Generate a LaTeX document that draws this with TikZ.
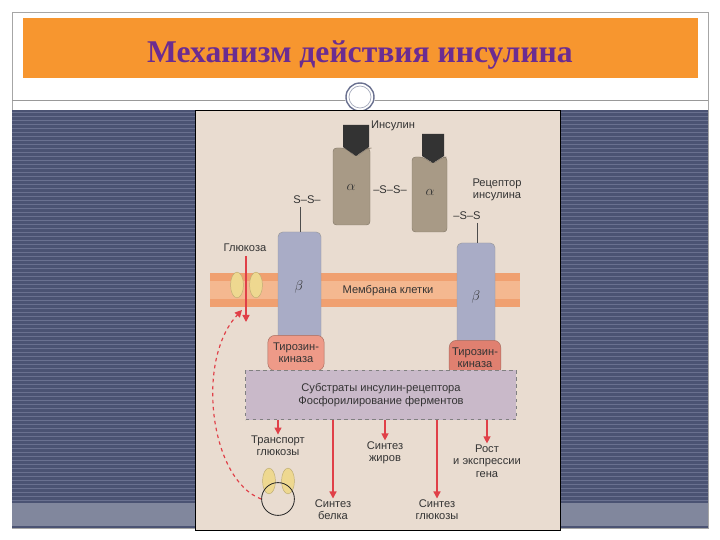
\documentclass[tikz,border=0pt]{standalone}
\usepackage{fontspec}
\setmainfont{Liberation Serif}
\newfontfamily\lab{Liberation Sans}
\usetikzlibrary{arrows.meta,shapes.geometric}
\definecolor{orangebar}{HTML}{F7962F}
\definecolor{titlec}{HTML}{6B2C91}
\definecolor{slate}{HTML}{4B5373}
\definecolor{slateline}{HTML}{6A7190}
\definecolor{beige}{HTML}{E9DCD0}
\definecolor{alphac}{HTML}{A89A86}
\definecolor{betac}{HTML}{A9ACC6}
\definecolor{memb}{HTML}{F0A070}
\definecolor{membin}{HTML}{F4B890}
\definecolor{kinase}{HTML}{EE9A88}
\definecolor{kinase2}{HTML}{E08070}
\definecolor{subst}{HTML}{C9B9C9}
\definecolor{redarr}{HTML}{E04048}
\definecolor{yel}{HTML}{EED890}
\tikzset{
 lbl/.style={font=\lab\fontsize{9.5}{10.5}\selectfont, align=center, text=black!80, inner sep=1pt},
 greek/.style={font=\fontsize{13}{13}\selectfont, text=black!80},
 kinbox/.style={fill=kinase, draw=kinase!70!black, rounded corners=6pt, lbl, minimum height=30pt, text width=46pt},
 rarr/.style={draw=redarr, line width=1.1pt, -{Triangle[length=6pt,width=6pt]}},
 yell/.style={ellipse, fill=yel, draw=yel!80!black, minimum width=11pt, minimum height=22pt, inner sep=0pt},
}
\begin{document}
\begin{tikzpicture}[x=0.03cm,y=-0.03cm]
\useasboundingbox (0,0) rectangle (720,540);
\fill[white] (0,0) rectangle (720,540);
\draw[gray!70, line width=0.6pt] (12,12) rectangle (708,528);
\fill[orangebar] (23,18) rectangle (698,78);
\node[font=\bfseries\fontsize{27}{29}\selectfont, text=titlec] (title) at (360,55) {Механизм действия инсулина};
\draw[gray!80, line width=0.6pt] (12,100) -- (708,100);
\fill[slate] (12,110) rectangle (708,528);
\foreach \yy in {112,116,...,500} \draw[slateline, line width=0.6pt] (12,\yy) -- (708,\yy);
\fill[slate!70!white] (12,503) rectangle (708,526);
\fill[white] (360,97) circle (15);
\draw[slateline, line width=1.2pt] (360,97) circle (14);
\draw[slateline!60, line width=0.6pt] (360,97) circle (11);
\fill[beige, draw=black, line width=0.8pt] (195,110) rectangle (560,530);
% membrane
\fill[memb] (210,273) rectangle (520,307);
\fill[membin] (210,281) rectangle (520,299);
\node[lbl] (memtxt) at (388,291) {Мембрана клетки};
% alpha
\draw[alphac!80!black, fill=alphac, rounded corners=3pt] (333,148) -- (345,148) -- (356,157) -- (368,148) -- (370,148) -- (370,225) -- (333,225) -- cycle;
\node[greek] (a1) at (351,187) {$\alpha$};
\draw[alphac!80!black, fill=alphac, rounded corners=3pt] (412,157) -- (423,157) -- (433,164) -- (443,157) -- (447,157) -- (447,232) -- (412,232) -- cycle;
\node[greek] (a2) at (430,192) {$\alpha$};
% insulin
\node[lbl] (ins) at (393,126) {Инсулин};
\fill[black!80] (343,125) -- (369,125) -- (369,147) -- (356,156) -- (343,147) -- cycle;
\fill[black!80] (422,134) -- (444,134) -- (444,156) -- (433,163) -- (422,156) -- cycle;
\node[lbl] (ss1) at (390,190) {–S–S–};
\node[lbl] (ss2) at (307,200) {S–S–};
\node[lbl] (ss3) at (467,216) {–S–S};
\node[lbl] (rec) at (497,190) {Рецептор\\инсулина};
% beta
\fill[betac, draw=black!40, rounded corners=4pt] (278,232) rectangle (321,340);
\node[greek] (bl1) at (299,287) {$\beta$};
\fill[betac, draw=black!40, rounded corners=4pt] (457,243) rectangle (495,345);
\node[greek] (bl2) at (476,297) {$\beta$};
\coordinate (l1a) at (300,207); \coordinate (l1b) at (300,232);
\draw[black!70] (l1a) -- (l1b);
\coordinate (l2a) at (477,223); \coordinate (l2b) at (477,243);
\draw[black!70] (l2a) -- (l2b);
% glucose channel
\node[lbl] (glu) at (245,248) {Глюкоза};
\node[yell] (c1) at (237,285) {};
\node[yell] (c2) at (256,285) {};
\coordinate (g1) at (246,256); \coordinate (g2) at (246,322);
\draw[rarr] (g1) -- (g2);
% kinases
\node[kinbox] (k1) at (296,353) {Тирозин-\\киназа};
\node[kinbox, fill=kinase2, text width=42pt] (k2) at (475,358) {Тирозин-\\киназа};
% substrates
\node[fill=subst, draw=black!50, dashed, minimum width=231pt, minimum height=42pt, lbl] (sub) at (381,395) {Субстраты инсулин-рецептора\\Фосфорилирование ферментов};
% outputs
\node[lbl] (o1) at (278,446) {Транспорт\\глюкозы};
\node[lbl] (o2) at (333,510) {Синтез\\белка};
\node[lbl] (o3) at (385,453) {Синтез\\жиров};
\node[lbl] (o4) at (437,510) {Синтез\\глюкозы};
\node[lbl] (o5) at (487,461) {Рост\\и экспрессии\\гена};
\draw[rarr] (sub.south -| o1) -- (o1.north);
\draw[rarr] (sub.south -| o2) -- (o2.north);
\draw[rarr] (sub.south -| o3) -- (o3.north);
\draw[rarr] (sub.south -| o4) -- (o4.north);
\draw[rarr] (sub.south -| o5) -- (o5.north);
% vesicle
\node[yell] (v1) at (269,481) {};
\node[yell] (v2) at (288,481) {};
\node[circle, draw=black!85, minimum size=28pt, inner sep=0pt, line width=0.7pt] (ves) at (278,499) {};
\draw[redarr, dashed, line width=1pt, -{Triangle[length=6pt,width=6pt]}] (ves.west) .. controls (210,480) and (195,360) .. (242,310);
\end{tikzpicture}
\end{document}
